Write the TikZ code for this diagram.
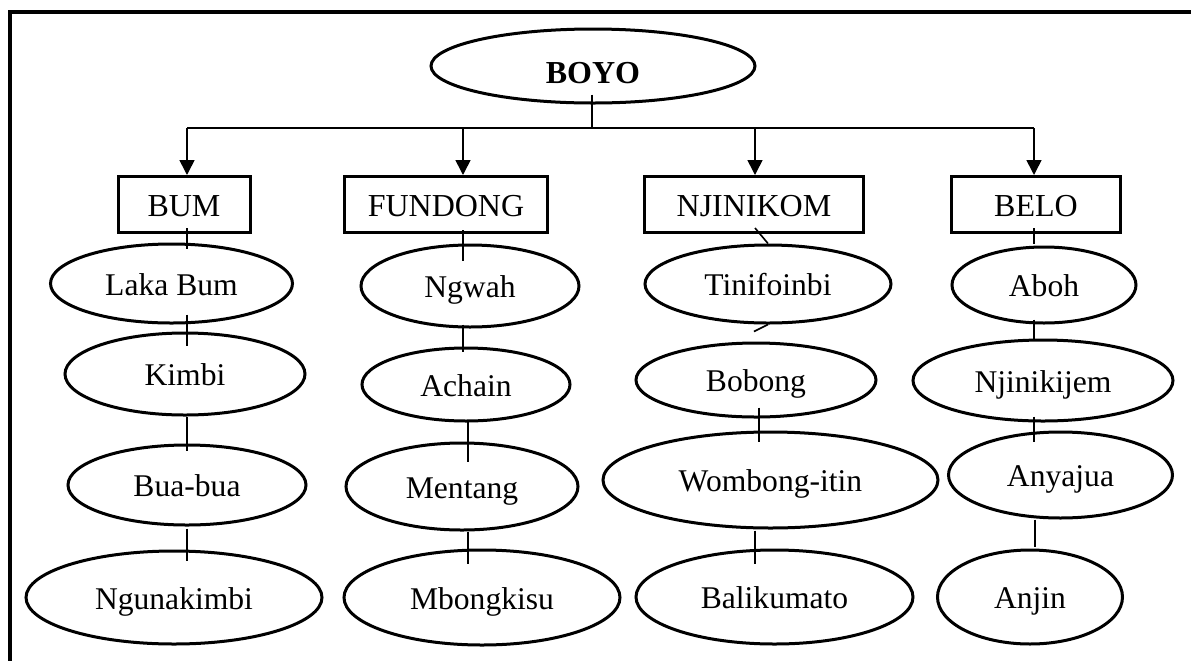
\documentclass[tikz,border=0pt]{standalone}
\usepackage{fontspec}
\setmainfont{Liberation Serif}
\usetikzlibrary{shapes.geometric,arrows.meta,calc}
\newcommand\myconn[5]{\draw[link] ($(#1.south -| #3)+(0,#4)$) -- ($(#2.north -| #3)+(0,#5)$);}
\begin{document}
\begin{tikzpicture}[x=0.5pt,y=-0.5pt,
  ell/.style={draw, ellipse, line width=1.5pt, inner sep=0pt,
    font=\fontsize{15.8}{18}\selectfont, text height=15pt, text depth=3.2pt},
  box/.style={draw, rectangle, line width=1.5pt, inner sep=0pt, minimum height=28pt,
    font=\fontsize{16}{19}\selectfont, text height=15.2pt, text depth=3.2pt},
  link/.style={line width=0.8pt},
  arr/.style={link, -{Triangle[length=7.5pt,width=7.5pt]}}]
\useasboundingbox (0,0) rectangle (1191,660);
\draw[line width=1.6pt] (1195,12) -- (10,12) -- (10,665);

% root
\node[ell, minimum width=162pt, minimum height=37pt,
  font=\bfseries\fontsize{16}{19}\selectfont, text height=19.2pt, text depth=2.2pt]
  (BOYO) at (593,66) {BOYO};

% boxes
\node[box, minimum width=66pt]    (BUM)      at (184,204.5)  {BUM};
\node[box, minimum width=101.8pt] (FUNDONG)  at (446,204.5)  {FUNDONG};
\node[box, minimum width=109.3pt] (NJINIKOM) at (754,204.5)  {NJINIKOM};
\node[box, minimum width=84.2pt]  (BELO)     at (1036,204.5) {BELO};

% bus coordinates
\coordinate (b1) at (187,128);
\coordinate (b2) at (463,128);
\coordinate (b3) at (755,128);
\coordinate (b4) at (1034,128);
\coordinate (broot) at (592,128);
\coordinate (c2b) at (467.7,0);
\coordinate (c3b) at (759,0);
\coordinate (c4b) at (1035,0);

% column 1
\node[ell, minimum width=121pt, minimum height=39.5pt] (LakaBum) at (171.5,283.5) {Laka Bum};
\node[ell, minimum width=120pt, minimum height=41pt]   (Kimbi)   at (185,374)     {Kimbi};
\node[ell, minimum width=119pt, minimum height=40pt]   (Bua)     at (187,485)     {Bua-bua};
\node[ell, minimum width=148pt, minimum height=46.5pt] (Ngun)    at (174,597.5)   {Ngunakimbi};
% column 2
\node[ell, minimum width=109pt, minimum height=41pt]   (Ngwah)   at (470,286)     {Ngwah};
\node[ell, minimum width=104pt, minimum height=36.5pt] (Achain)  at (466,384.5)   {Achain};
\node[ell, minimum width=116pt, minimum height=43.5pt] (Mentang) at (462,486.5)   {Mentang};
\node[ell, minimum width=138pt, minimum height=47.5pt] (Mbong)   at (482,597.5)   {Mbongkisu};
% column 3
\node[ell, minimum width=123pt, minimum height=39pt]   (Tini)    at (768,284)     {Tinifoinbi};
\node[ell, minimum width=120pt, minimum height=37pt]   (Bobong)  at (756,380)     {Bobong};
\node[ell, minimum width=167.5pt, minimum height=48pt] (Wombong) at (770.5,480)   {Wombong-itin};
\node[ell, minimum width=138.5pt, minimum height=47pt] (Bali)    at (774.5,597)   {Balikumato};
% column 4
\node[ell, minimum width=92pt, minimum height=38pt]    (Aboh)    at (1044,285)    {Aboh};
\node[ell, minimum width=130pt, minimum height=40.5pt] (Njini)   at (1043,380.5)  {Njinikijem};
\node[ell, minimum width=112pt, minimum height=43pt]   (Anya)    at (1060.5,475)  {Anyajua};
\node[ell, minimum width=92.5pt, minimum height=47pt]  (Anjin)   at (1030,597)    {Anjin};

% root connectors
\draw[link] ($(broot |- BOYO.south)+(0,-10)$) -- (broot);
\draw[link] (b1) -- (b4);
\draw[arr] (b1) -- (b1 |- BUM.north);
\draw[arr] (b2) -- (b2 |- FUNDONG.north);
\draw[arr] (b3) -- (b3 |- NJINIKOM.north);
\draw[arr] (b4) -- (b4 |- BELO.north);

% column connectors
\myconn{BUM}{LakaBum}{b1}{-6}{6}
\myconn{LakaBum}{Kimbi}{b1}{-10}{14}
\myconn{Kimbi}{Bua}{b1}{0}{7}
\myconn{Bua}{Ngun}{b1}{2}{11}
\myconn{FUNDONG}{Ngwah}{b2}{-4}{17}
\myconn{Ngwah}{Achain}{b2}{-4}{5}
\myconn{Achain}{Mentang}{c2b}{-1}{20}
\myconn{Mentang}{Mbong}{c2b}{0}{15}
\draw[link] ($(NJINIKOM.south -| b3)+(0,-6)$) -- (Tini.north);
\draw[link] (Tini.south) -- ($(Bobong.north)+(-2,-10)$);
\myconn{Bobong}{Wombong}{c3b}{-11}{11}
\myconn{Wombong}{Bali}{b3}{1}{15}
\myconn{BELO}{Aboh}{b4}{-6}{-2}
\myconn{Aboh}{Njini}{b4}{-5}{2}
\myconn{Njini}{Anya}{b4}{-6}{11}
\myconn{Anya}{Anjin}{c4b}{0}{-2}
\end{tikzpicture}
\end{document}
